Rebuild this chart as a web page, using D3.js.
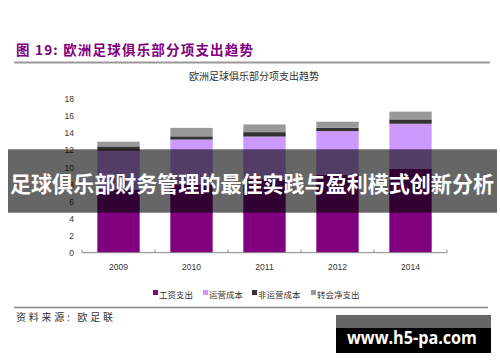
<!DOCTYPE html>
<html>
<head>
<meta charset="utf-8">
<script src="https://cdn.jsdelivr.net/npm/d3@7"></script>
<style>
  body { margin: 0; background: #fff; }
  svg { display: block; }
  text { white-space: pre; }
</style>
</head>
<body>
<svg id="chart" width="500" height="362"></svg>
<script>
// values (bn EUR)
const years = ["2009", "2010", "2011", "2012", "2014"];
const wages = [7.4, 8.0, 8.6, 9.1, 9.8];
const operating = [4.55, 5.25, 5.0, 5.14, 5.3];
const nonOperating = [0.5, 0.38, 0.52, 0.39, 0.51];
const transfers = [0.55, 0.99, 0.9, 0.71, 0.91];
const seriesNames = ["工资支出", "运营成本", "非运营成本", "转会净支出"];
const seriesColors = ["#800080", "#cc99ff", "#333333", "#999999"];
const yTicks = [0, 2, 4, 6, 8, 10, 12, 14, 16, 18];

const svg = d3.select("#chart");

// rows for the stack
let rows = years.map((y, i) => ({
    year: y,
    s0: wages[i], s1: operating[i], s2: nonOperating[i], s3: transfers[i]
}));
const stack = d3.stack().keys(["s0", "s1", "s2", "s3"])(rows);

// header
svg.append("text")
    .attr("x", 16).attr("y", 55)
    .attr("font-family", "'Noto Sans CJK SC', sans-serif")
    .attr("font-size", 13.5).attr("font-weight", "bold")
    .attr("fill", "#800080")
    .attr("textLength", 237).attr("lengthAdjust", "spacing")
    .text("图 19: 欧洲足球俱乐部分项支出趋势");
svg.append("line")
    .attr("x1", 14).attr("x2", 490).attr("y1", 62.5).attr("y2", 62.5)
    .attr("stroke", "#999").attr("stroke-width", 2);

svg.append("text")
    .attr("x", 254).attr("y", 79.5)
    .attr("text-anchor", "middle")
    .attr("font-family", "'Noto Sans CJK SC', sans-serif")
    .attr("font-size", 10).attr("fill", "#333")
    .text("欧洲足球俱乐部分项支出趋势");

// scales
const x = d3.scaleBand()
    .domain(years)
    .range([82, 447])
    .paddingInner(0.42)
    .paddingOuter(0.21);
const y = d3.scaleLinear()
    .domain([0, 18])
    .range([252.7, 99]);

// y labels
svg.append("g")
    .attr("transform", "translate(74,0)")
    .call(d3.axisLeft(y).tickValues(yTicks).tickSize(0).tickPadding(0))
    .call(g => g.select(".domain").remove())
    .selectAll("text")
    .attr("font-family", "Arial, 'Liberation Sans', sans-serif")
    .attr("font-size", 8.5).attr("fill", "#333");

// bars
svg.append("g").selectAll("g")
    .data(stack)
    .join("g")
    .attr("fill", (d, i) => seriesColors[i])
    .selectAll("rect")
    .data(d => d)
    .join("rect")
    .attr("x", d => x(d.data.year))
    .attr("width", x.bandwidth())
    .attr("y", d => y(d[1]))
    .attr("height", d => y(d[0]) - y(d[1]));

// x axis
const step = x.step();
const xAxis = svg.append("g");
xAxis.append("line")
    .attr("x1", 82).attr("x2", 447)
    .attr("y1", y(0)).attr("y2", y(0))
    .attr("stroke", "#888").attr("stroke-width", 1);
const bounds = years.map(d => x(d) - step * 0.21).concat([447]);
xAxis.selectAll(".tk")
    .data(bounds)
    .join("line")
    .attr("x1", d => d).attr("x2", d => d)
    .attr("y1", y(0)).attr("y2", y(0) - 3)
    .attr("stroke", "#888");
xAxis.selectAll(".lbl")
    .data(years)
    .join("text")
    .attr("x", d => x(d) + x.bandwidth() / 2)
    .attr("y", 270)
    .attr("text-anchor", "middle")
    .attr("font-family", "Arial, 'Liberation Sans', sans-serif")
    .attr("font-size", 8.5).attr("fill", "#333")
    .text(d => d);

// legend
const legendX = [153, 203, 252, 311];
const legend = svg.append("g").selectAll("g")
    .data(seriesNames)
    .join("g")
    .attr("transform", (d, i) => `translate(${legendX[i]},294)`);
legend.append("rect")
    .attr("x", 0).attr("y", -4).attr("width", 5).attr("height", 5)
    .attr("fill", (d, i) => seriesColors[i]);
legend.append("text")
    .attr("x", 6).attr("y", 3.5)
    .attr("font-family", "'Noto Sans CJK SC', sans-serif")
    .attr("font-size", 8.5).attr("fill", "#333")
    .text(d => d);

svg.append("line")
    .attr("x1", 14).attr("x2", 488).attr("y1", 307.5).attr("y2", 307.5)
    .attr("stroke", "#888").attr("stroke-width", 1.5);

svg.append("text")
    .attr("x", 16).attr("y", 321)
    .attr("font-family", "'Noto Sans CJK SC', sans-serif")
    .attr("font-size", 10).attr("fill", "#333")
    .attr("textLength", 97).attr("lengthAdjust", "spacing")
    .text("资料来源: 欧足联");

// banner overlay
svg.append("rect")
    .attr("x", 8).attr("y", 149.3).attr("width", 489).attr("height", 63.4)
    .attr("fill", "rgba(0,0,0,0.6)");
svg.append("text")
    .attr("x", 10).attr("y", 192)
    .attr("font-family", "'Noto Sans CJK SC', sans-serif")
    .attr("font-size", 21.5).attr("font-weight", "bold")
    .attr("fill", "#fff")
    .attr("textLength", 484).attr("lengthAdjust", "spacingAndGlyphs")
    .text("足球俱乐部财务管理的最佳实践与盈利模式创新分析");

// watermark
svg.append("rect")
    .attr("x", 336).attr("y", 315).attr("width", 155).attr("height", 13)
    .attr("fill", "#666");
svg.append("rect")
    .attr("x", 336).attr("y", 328).attr("width", 155).attr("height", 25)
    .attr("fill", "#000");
svg.append("text")
    .attr("x", 347).attr("y", 344)
    .attr("font-family", "'Open Sans', sans-serif")
    .attr("font-size", 17).attr("font-weight", "bold")
    .attr("fill", "#fff")
    .attr("textLength", 130).attr("lengthAdjust", "spacingAndGlyphs")
    .text("www.h5-pa.com");
</script>
</body>
</html>
